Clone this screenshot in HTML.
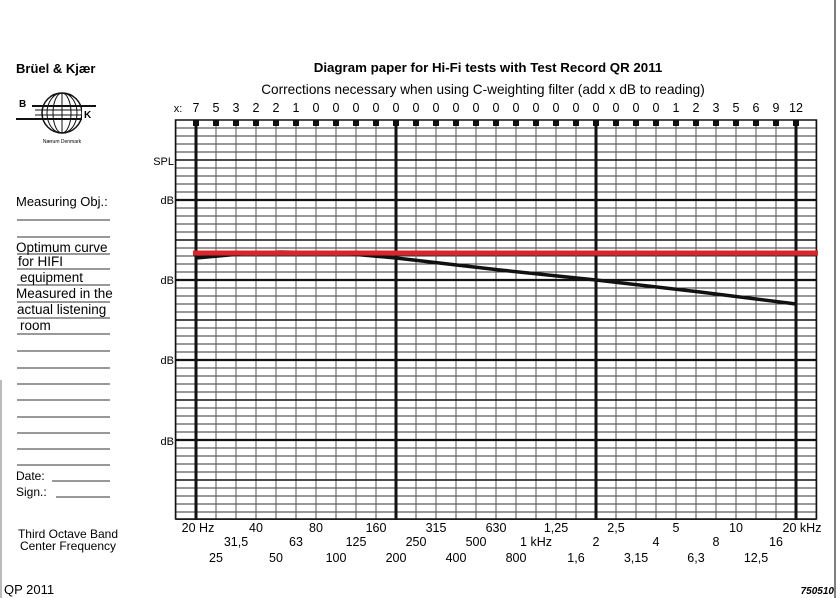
<!DOCTYPE html>
<html><head><meta charset="utf-8"><style>
html,body{margin:0;padding:0;background:#fff;}
svg{display:block;font-family:"Liberation Sans",sans-serif;}
</style></head><body>
<svg width="840" height="598" viewBox="0 0 840 598" xmlns="http://www.w3.org/2000/svg">
<defs>
<pattern id="v" x="195.5" y="0" width="20" height="8" patternUnits="userSpaceOnUse"><rect x="0" y="0" width="1" height="8" fill="#555"/></pattern>
<pattern id="h" x="0" y="119.5" width="20" height="8" patternUnits="userSpaceOnUse"><rect x="0" y="0" width="20" height="1" fill="#333"/></pattern>
</defs>
<rect width="840" height="598" fill="#fff"/>
<line x1="835" y1="0" x2="835" y2="598" stroke="#555" stroke-width="1.5"/>
<line x1="1" y1="380" x2="1" y2="598" stroke="#777" stroke-width="1"/>
<rect x="176" y="120" width="640" height="400" fill="url(#h)"/>
<rect x="176" y="120" width="640" height="400" fill="url(#v)"/>
<rect x="175.5" y="120" width="641" height="399" fill="none" stroke="#111" stroke-width="1.5"/>
<g stroke="#111" stroke-width="2.2">
<line x1="175" y1="200" x2="816" y2="200"/><line x1="175" y1="280" x2="816" y2="280"/>
<line x1="175" y1="360" x2="816" y2="360"/><line x1="175" y1="440" x2="816" y2="440"/>
<line x1="175" y1="160" x2="816" y2="160" stroke-width="1.5"/>
<line x1="175" y1="240" x2="816" y2="240" stroke-width="1.5"/>
<line x1="175" y1="320" x2="816" y2="320" stroke-width="1.5"/>
<line x1="175" y1="400" x2="816" y2="400" stroke-width="1.5"/>
<line x1="175" y1="480" x2="816" y2="480" stroke-width="1.5"/>
<line x1="196" y1="120" x2="196" y2="520" stroke-width="3"/>
<line x1="396" y1="120" x2="396" y2="520" stroke-width="3"/>
<line x1="596" y1="120" x2="596" y2="520" stroke-width="3"/>
<line x1="796" y1="120" x2="796" y2="520" stroke-width="3"/>
</g>
<g fill="#111">
<rect x="193" y="120" width="6" height="6"/><rect x="213" y="120" width="6" height="6"/><rect x="233" y="120" width="6" height="6"/><rect x="253" y="120" width="6" height="6"/><rect x="273" y="120" width="6" height="6"/><rect x="293" y="120" width="6" height="6"/><rect x="313" y="120" width="6" height="6"/><rect x="333" y="120" width="6" height="6"/><rect x="353" y="120" width="6" height="6"/><rect x="373" y="120" width="6" height="6"/><rect x="393" y="120" width="6" height="6"/><rect x="413" y="120" width="6" height="6"/><rect x="433" y="120" width="6" height="6"/><rect x="453" y="120" width="6" height="6"/><rect x="473" y="120" width="6" height="6"/><rect x="493" y="120" width="6" height="6"/><rect x="513" y="120" width="6" height="6"/><rect x="533" y="120" width="6" height="6"/><rect x="553" y="120" width="6" height="6"/><rect x="573" y="120" width="6" height="6"/><rect x="593" y="120" width="6" height="6"/><rect x="613" y="120" width="6" height="6"/><rect x="633" y="120" width="6" height="6"/><rect x="653" y="120" width="6" height="6"/><rect x="673" y="120" width="6" height="6"/><rect x="693" y="120" width="6" height="6"/><rect x="713" y="120" width="6" height="6"/><rect x="733" y="120" width="6" height="6"/><rect x="753" y="120" width="6" height="6"/><rect x="773" y="120" width="6" height="6"/><rect x="793" y="120" width="6" height="6"/>
</g>
<polyline points="196,258 240,254 280,252 340,253 396,258 500,270 596,280 700,292 796,304" fill="none" stroke="#111" stroke-width="3.5"/>
<line x1="193" y1="253" x2="818" y2="253" stroke="#d8262b" stroke-width="5"/>
<text x="16" y="73" font-size="13" font-weight="bold">Brüel &amp; Kjær</text>
<g>
<circle cx="62" cy="113" r="20" fill="none" stroke="#111" stroke-width="1.5"/>
<ellipse cx="62" cy="113" rx="9" ry="20" fill="none" stroke="#111"/>
<ellipse cx="62" cy="113" rx="15" ry="20" fill="none" stroke="#111"/>
<line x1="62" y1="93" x2="62" y2="133" stroke="#111"/>
<line x1="32" y1="106" x2="96" y2="106" stroke="#111" stroke-width="2"/>
<line x1="35" y1="110" x2="90" y2="110" stroke="#111"/>
<line x1="35" y1="115" x2="90" y2="115" stroke="#111"/>
<line x1="16" y1="119" x2="82" y2="119" stroke="#111" stroke-width="2"/>
<rect x="16" y="96" width="16" height="12" fill="#fff"/><text x="19" y="107" font-size="10" font-weight="bold">B</text>
<rect x="82" y="108" width="14" height="12" fill="#fff"/><text x="84" y="118" font-size="10" font-weight="bold">K</text>
<text x="62" y="143" font-size="5" text-anchor="middle">Nærum Denmark</text>
</g>
<text x="488" y="72" font-size="13.3" font-weight="bold" text-anchor="middle">Diagram paper for Hi-Fi tests with Test Record QR 2011</text>
<text x="483" y="94" font-size="13.6" text-anchor="middle">Corrections necessary when using C-weighting filter (add x dB  to reading)</text>
<g font-size="12.5" text-anchor="middle">
<text x="178" y="112" font-size="11">x:</text>
<text x="196" y="112">7</text><text x="216" y="112">5</text><text x="236" y="112">3</text><text x="256" y="112">2</text><text x="276" y="112">2</text><text x="296" y="112">1</text><text x="316" y="112">0</text><text x="336" y="112">0</text><text x="356" y="112">0</text><text x="376" y="112">0</text><text x="396" y="112">0</text><text x="416" y="112">0</text><text x="436" y="112">0</text><text x="456" y="112">0</text><text x="476" y="112">0</text><text x="496" y="112">0</text><text x="516" y="112">0</text><text x="536" y="112">0</text><text x="556" y="112">0</text><text x="576" y="112">0</text><text x="596" y="112">0</text><text x="616" y="112">0</text><text x="636" y="112">0</text><text x="656" y="112">0</text><text x="676" y="112">1</text><text x="696" y="112">2</text><text x="716" y="112">3</text><text x="736" y="112">5</text><text x="756" y="112">6</text><text x="776" y="112">9</text><text x="796" y="112">12</text>
</g>
<g font-size="11" text-anchor="end">
<text x="174" y="165">SPL</text><text x="174" y="204">dB</text><text x="174" y="284">dB</text><text x="174" y="364">dB</text><text x="174" y="445">dB</text>
</g>
<g font-size="12.5" text-anchor="middle">
<text x="198" y="532">20 Hz</text><text x="256" y="532">40</text><text x="316" y="532">80</text><text x="376" y="532">160</text><text x="436" y="532">315</text><text x="496" y="532">630</text><text x="556" y="532">1,25</text><text x="616" y="532">2,5</text><text x="676" y="532">5</text><text x="736" y="532">10</text><text x="802" y="532">20 kHz</text>
<text x="236" y="546">31,5</text><text x="296" y="546">63</text><text x="356" y="546">125</text><text x="416" y="546">250</text><text x="476" y="546">500</text><text x="536" y="546">1 kHz</text><text x="596" y="546">2</text><text x="656" y="546">4</text><text x="716" y="546">8</text><text x="776" y="546">16</text>
<text x="216" y="562">25</text><text x="276" y="562">50</text><text x="336" y="562">100</text><text x="396" y="562">200</text><text x="456" y="562">400</text><text x="516" y="562">800</text><text x="576" y="562">1,6</text><text x="636" y="562">3,15</text><text x="696" y="562">6,3</text><text x="756" y="562">12,5</text>
</g>
<g font-size="12">
<text x="16" y="206" font-size="13">Measuring Obj.:</text>
<text x="16" y="252" font-size="13.5">Optimum curve</text>
<text x="18" y="266" font-size="13.5">for HIFI</text>
<text x="20" y="282" font-size="13.5">equipment</text>
<text x="16" y="298" font-size="13.5">Measured in the</text>
<text x="17" y="314" font-size="13.5">actual listening</text>
<text x="20" y="330" font-size="13.5">room</text>
<text x="16" y="480">Date:</text>
<text x="16" y="496">Sign.:</text>
<text x="68" y="538" text-anchor="middle">Third Octave Band</text>
<text x="68" y="550" text-anchor="middle">Center Frequency</text>
<text x="4" y="594" font-size="13">QP 2011</text>
<text x="834" y="594" font-size="10" font-style="italic" font-weight="bold" text-anchor="end">750510</text>
</g>
<g stroke="#333" stroke-width="1">
<line x1="17" y1="220" x2="110" y2="220"/><line x1="17" y1="237" x2="110" y2="237"/>
<line x1="17" y1="254" x2="110" y2="254"/><line x1="17" y1="269" x2="110" y2="269"/>
<line x1="17" y1="285" x2="110" y2="285"/><line x1="17" y1="302" x2="110" y2="302"/>
<line x1="17" y1="318" x2="110" y2="318"/><line x1="17" y1="334" x2="110" y2="334"/>
<line x1="17" y1="351" x2="110" y2="351"/><line x1="17" y1="368" x2="110" y2="368"/>
<line x1="17" y1="384" x2="110" y2="384"/><line x1="17" y1="400" x2="110" y2="400"/>
<line x1="17" y1="417" x2="110" y2="417"/><line x1="17" y1="433" x2="110" y2="433"/>
<line x1="17" y1="449" x2="110" y2="449"/><line x1="17" y1="465" x2="110" y2="465"/>
<line x1="52" y1="481" x2="110" y2="481"/><line x1="56" y1="497" x2="110" y2="497"/>
</g>
</svg>
</body></html>
